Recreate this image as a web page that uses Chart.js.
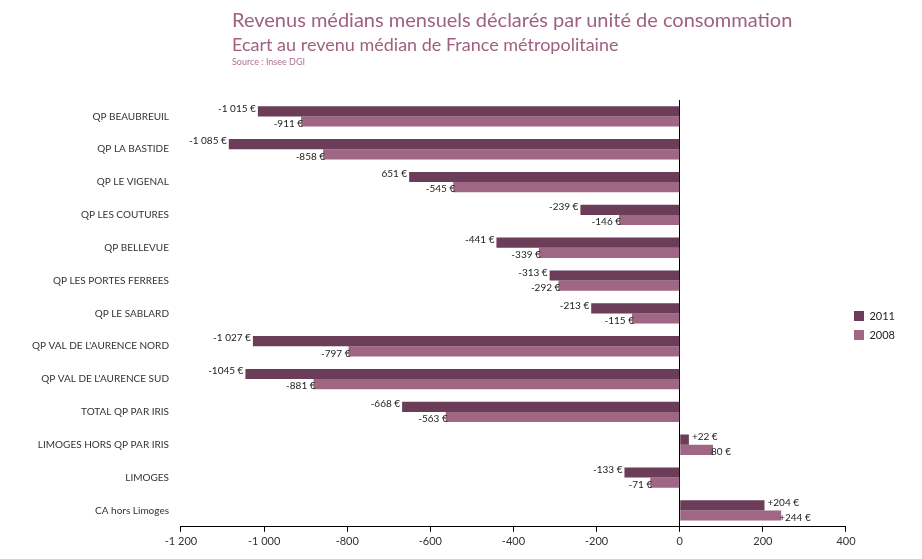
<!DOCTYPE html>
<html>
<head>
<meta charset="utf-8">
<script src="https://cdn.jsdelivr.net/npm/chart.js@4"></script>
<style>
  body { margin: 0; background: #fff; }
  #wrap { position: relative; width: 922px; height: 559px; }
  #titles { position: absolute; left: 232px; top: 6px; font-family: Lato, sans-serif; color: #a0607f; }
  #t1 { font-size: 20px; line-height: 26px; }
  #t2 { font-size: 18px; line-height: 24px; }
  #t3 { font-size: 9px; line-height: 12px; color: #b07090; }
</style>
</head>
<body>
<div id="wrap">
  <canvas id="chart" width="922" height="559"></canvas>
  <div id="titles">
    <div id="t1">Revenus médians mensuels déclarés par unité de consommation</div>
    <div id="t2">Ecart au revenu médian de France métropolitaine</div>
    <div id="t3">Source : Insee DGI</div>
  </div>
</div>
<script>
const categories = [
  "QP BEAUBREUIL", "QP LA BASTIDE", "QP LE VIGENAL", "QP LES COUTURES",
  "QP BELLEVUE", "QP LES PORTES FERREES", "QP LE SABLARD",
  "QP VAL DE L'AURENCE NORD", "QP VAL DE L'AURENCE SUD", "TOTAL QP PAR IRIS",
  "LIMOGES HORS QP PAR IRIS", "LIMOGES", "CA hors Limoges",
];
const values2011 = [-1015, -1085, -651, -239, -441, -313, -213, -1027, -1045, -668, 22, -133, 204];
const values2008 = [-911, -858, -545, -146, -339, -292, -115, -797, -881, -563, 80, -71, 244];
const labels2011 = ["-1 015 €", "-1 085 €", "651 €", "-239 €", "-441 €", "-313 €", "-213 €",
  "-1 027 €", "-1045 €", "-668 €", "+22 €", "-133 €", "+204 €"];
const labels2008 = ["-911 €", "-858 €", "-545 €", "-146 €", "-339 €", "-292 €", "-115 €",
  "-797 €", "-881 €", "-563 €", "80 €", "-71 €", "+244 €"];
const xTicks = [-1200, -1000, -800, -600, -400, -200, 0, 200, 400];

const dark = "#6b3d58";
const light = "#a06784";

// labels drawn at the end of each bar
const barLabels = {
  id: "barLabels",
  afterDatasetsDraw(chart) {
    const ctx = chart.ctx;
    ctx.save();
    ctx.font = "10px Lato, sans-serif";
    ctx.fillStyle = "#222";
    ctx.textBaseline = "middle";
    chart.data.datasets.forEach((ds, di) => {
      const meta = chart.getDatasetMeta(di);
      const texts = di === 0 ? labels2011 : labels2008;
      meta.data.forEach((bar, i) => {
        const v = ds.data[i];
        const dy = di === 0 ? -3 : 2;
        if (v < 0) {
          ctx.textAlign = "right";
          ctx.fillText(texts[i], bar.x - (di === 0 ? 2 : -2), bar.y + dy);
        } else {
          ctx.textAlign = "left";
          ctx.fillText(texts[i], bar.x + (di === 0 ? 3 : -2), bar.y + dy);
        }
      });
    });
    ctx.restore();
  },
};

new Chart(document.getElementById("chart").getContext("2d"), {
  type: "bar",
  data: {
    labels: categories,
    datasets: [
      { label: "2011", data: values2011, backgroundColor: dark, barPercentage: 1.0, categoryPercentage: 0.62 },
      { label: "2008", data: values2008, backgroundColor: light, barPercentage: 1.0, categoryPercentage: 0.62 },
    ],
  },
  options: {
    indexAxis: "y",
    responsive: false,
    animation: false,
    layout: { padding: { top: 100, left: 28, right: 2, bottom: 8 } },
    plugins: {
      legend: {
        position: "right",
        labels: { boxWidth: 10, boxHeight: 10, padding: 8, color: "#222", font: { family: "Lato", size: 11 } },
      },
      tooltip: { enabled: false },
    },
    scales: {
      x: {
        min: -1200,
        max: 400,
        afterBuildTicks: (axis) => { axis.ticks = xTicks.map((v) => ({ value: v })); },
        border: { display: true, color: "#000", width: 1 },
        grid: {
          color: (c) => (c.tick && c.tick.value === 0 ? "#000" : "rgba(0,0,0,0)"),
          tickColor: "#000",
          tickLength: 5,
        },
        ticks: {
          color: "#333",
          font: { family: "Lato", size: 11 },
          callback: (v) => (v <= -1000 ? String(v).replace(/(\d)(\d{3})$/, "$1 $2") : v),
        },
      },
      y: {
        border: { display: false },
        grid: { display: false },
        ticks: { color: "#333", font: { family: "Lato", size: 10 }, padding: 4 },
      },
    },
  },
  plugins: [barLabels, {
    id: "legendWidth",
    beforeInit(chart) {
      const origFit = chart.legend.fit;
      chart.legend.fit = function () {
        origFit.call(this);
        this.width += 15;
      };
    },
  }],
});
</script>
</body>
</html>
